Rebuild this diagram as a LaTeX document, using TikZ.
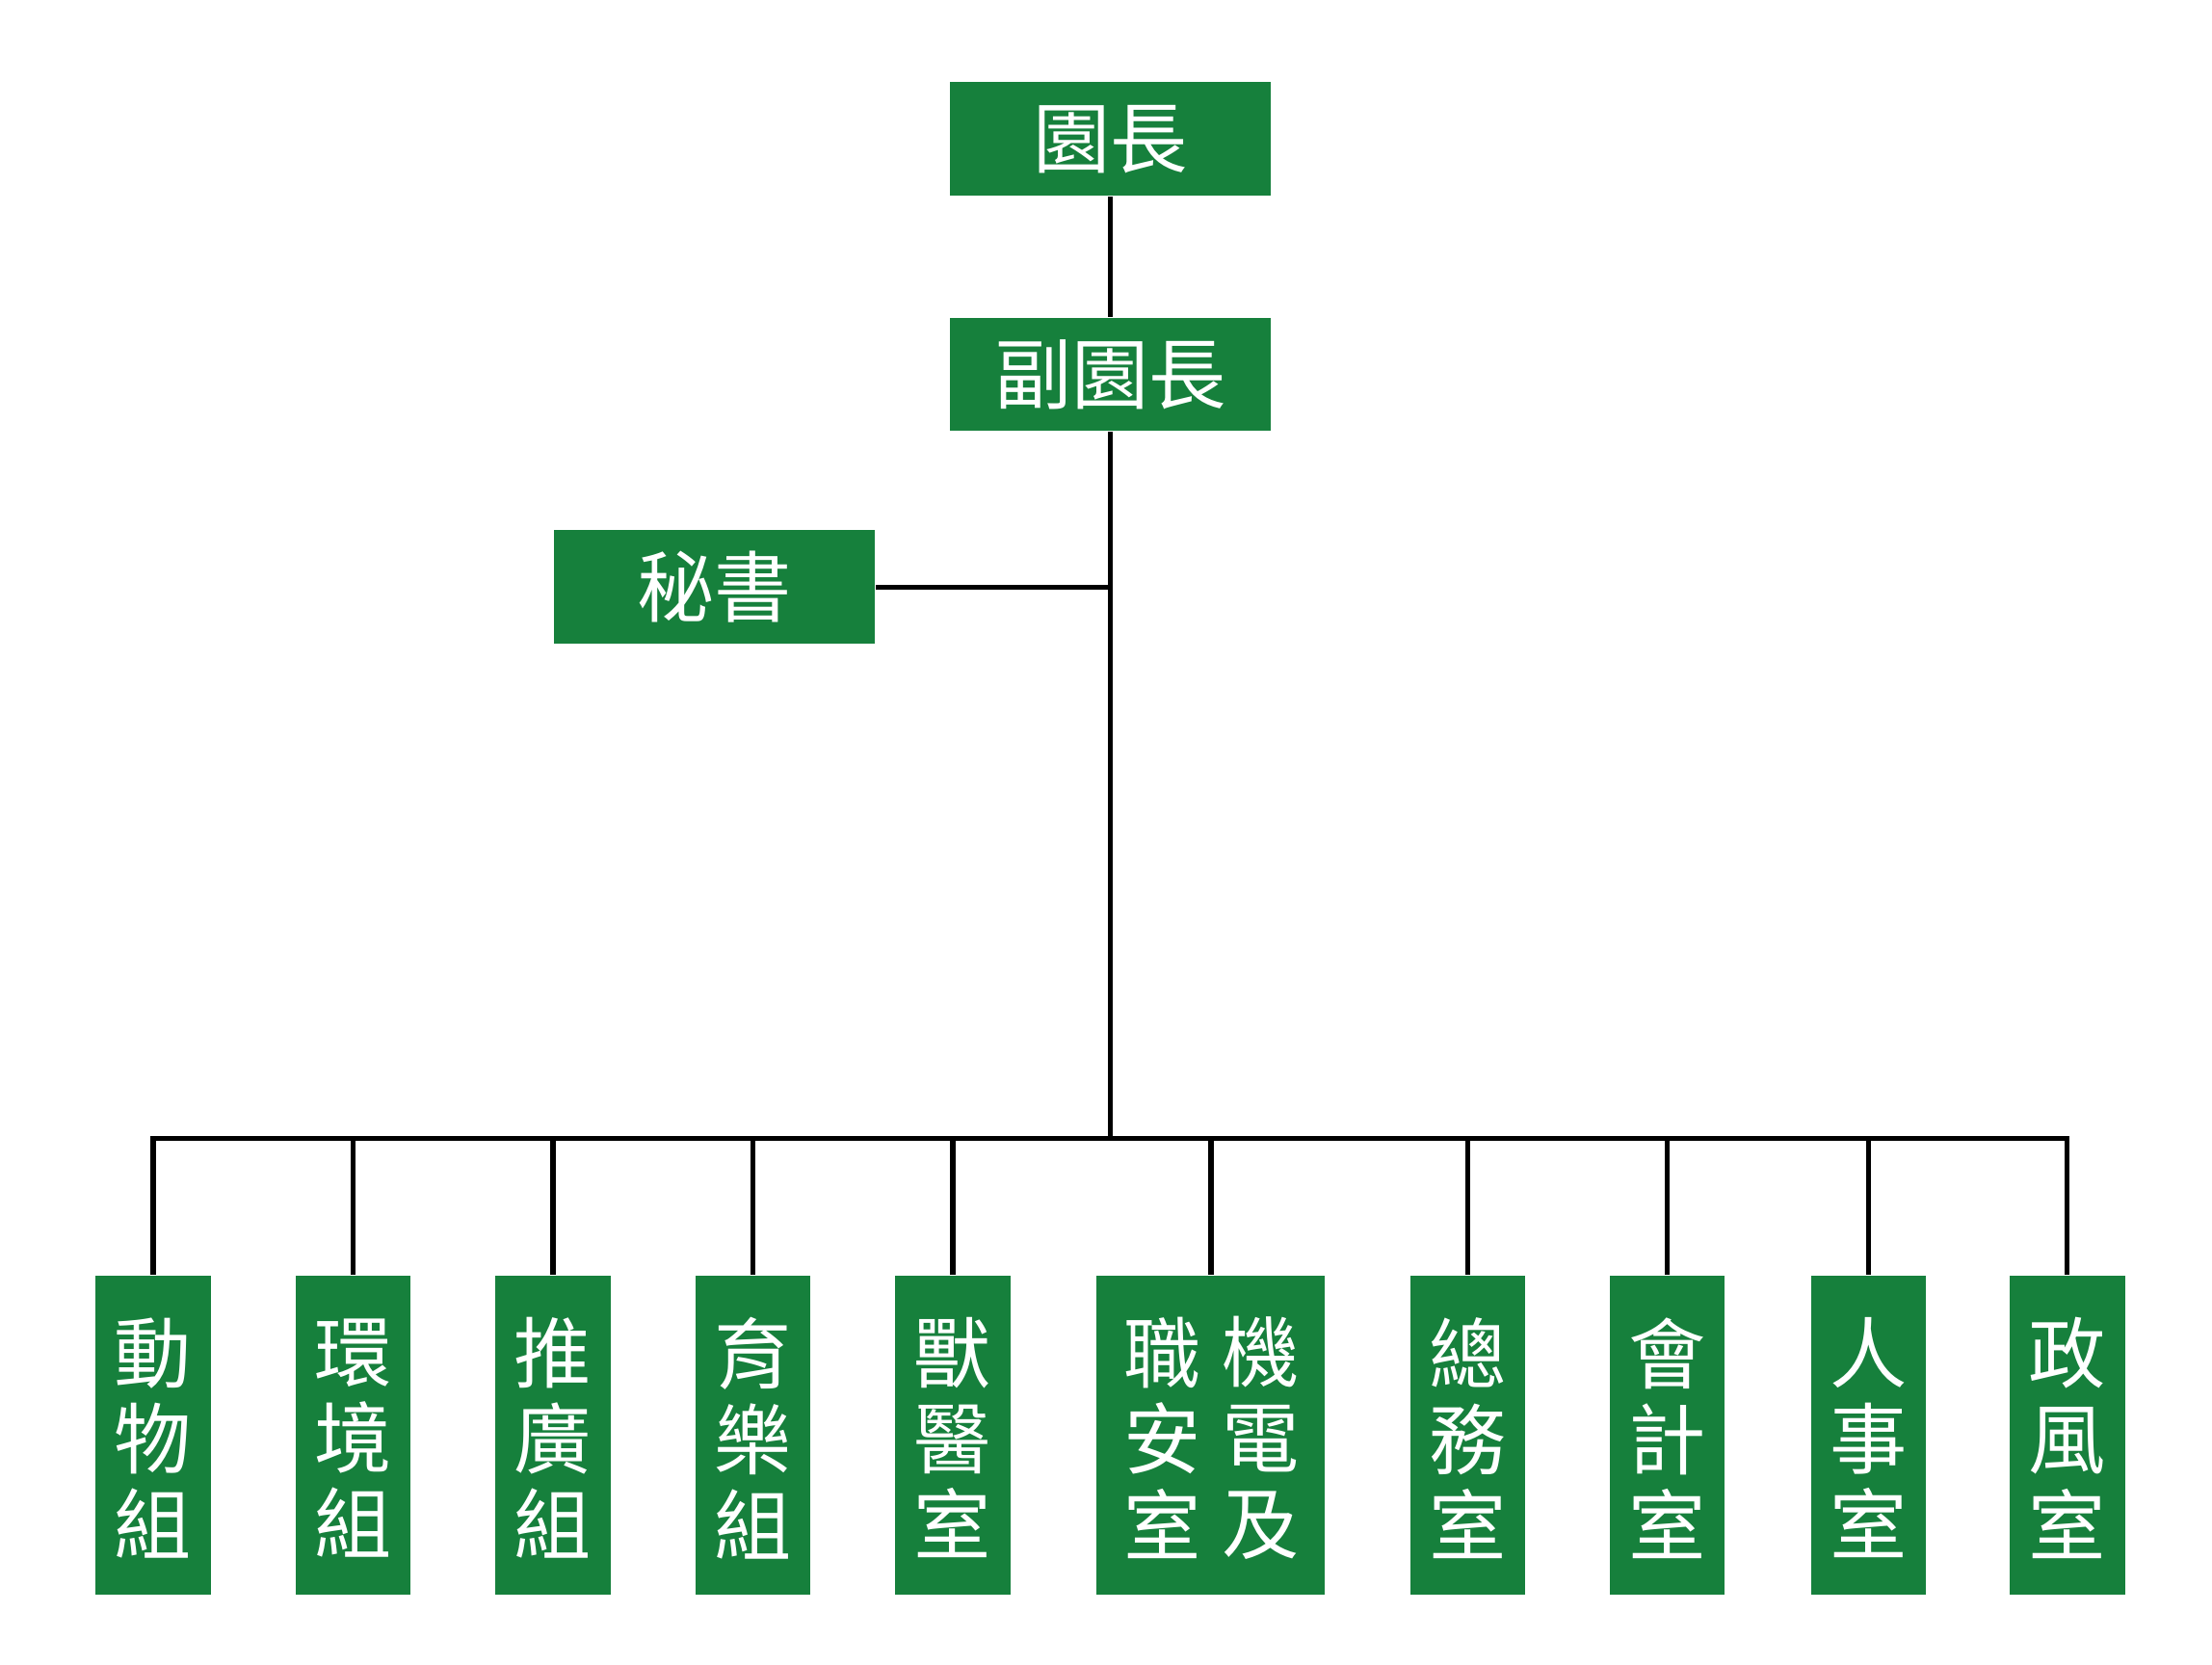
\documentclass[tikz,border=0pt]{standalone}
\usepackage{fontspec}
\newfontfamily\cjk{Noto Sans CJK TC}
\definecolor{boxgreen}{HTML}{16803C}
\begin{document}
\begin{tikzpicture}[x=0.01cm,y=-0.01cm,
  box/.style={fill=boxgreen,draw=none,inner sep=0pt},
  lbl/.style={text=white,font=\cjk\fontsize{15.5}{17.2}\selectfont,align=center,inner sep=0pt},
  conn/.style={line width=1pt,black}]
\useasboundingbox (0,0) rectangle (1560,1174);
\fill[white] (0,0) rectangle (1560,1174);
% top boxes
\node[box,minimum width=2.26cm,minimum height=0.8cm] (yz) at (783,98) {};
\node[lbl] at (yz) {園長};
\node[box,minimum width=2.26cm,minimum height=0.8cm] (fyz) at (783,264) {};
\node[lbl] at (fyz) {副園長};
\node[box,minimum width=2.26cm,minimum height=0.8cm] (ms) at (504,414) {};
\node[lbl] at (ms) {秘書};
\coordinate (j1) at (783,414);
\coordinate (bus) at (783,803);
\draw[conn] (yz.south) -- (fyz.north);
\draw[conn] (fyz.south) -- (bus);
\draw[conn] (ms.east) -- (j1);
% bottom
\foreach \n/\x/\t in {a/108/動\\物\\組, b/249/環\\境\\組, c/390/推\\廣\\組, d/531/育\\樂\\組, e/672/獸\\醫\\室, g/1035/總\\務\\室, h/1176/會\\計\\室, i/1318/人\\事\\室, k/1458/政\\風\\室}{
  \node[box,minimum width=0.81cm,minimum height=2.25cm] (\n) at (\x,1012) {};
  \node[lbl] at (\x,1014) {\t};
  \draw[conn] (\n.north) |- (bus);
}
\node[box,minimum width=1.61cm,minimum height=2.25cm] (f) at (854,1012) {};
\node[lbl] at (820,1014) {職\\安\\室};
\node[lbl] at (889,1014) {機\\電\\及};
\draw[conn] (f.north) |- (bus);
\end{tikzpicture}
\end{document}
